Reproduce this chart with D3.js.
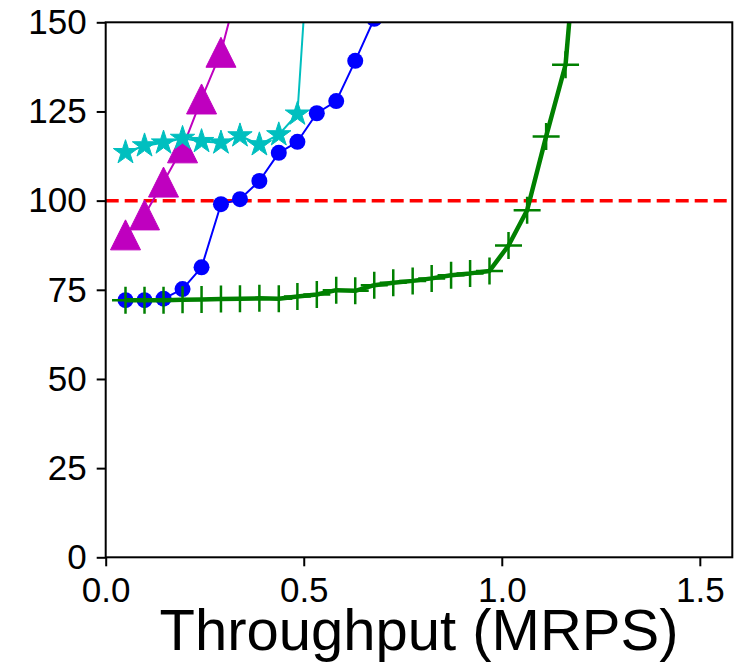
<!DOCTYPE html>
<html>
<head>
<meta charset="utf-8">
<script src="https://cdn.jsdelivr.net/npm/d3@7/dist/d3.min.js"></script>
<style>
	body { margin: 0; background: #fff; }
	text { font-family: "Liberation Sans", Arial, Helvetica, sans-serif; }
</style>
</head>
<body>
<svg id="chart" width="748" height="664"></svg>
<script>

// Offered load points (MRPS), shared by all series.
var throughput = [ 0.050, 0.098, 0.146, 0.194, 0.242, 0.291, 0.339, 0.388, 0.437, 0.484,
	0.533, 0.582, 0.630, 0.678, 0.726, 0.775, 0.823, 0.872, 0.920, 0.969,
	1.017, 1.064, 1.112, 1.161, 1.209 ];

// Latency per series; index i goes with throughput[i].
var greenLatency = [ 72.1, 72.1, 72.1, 72.2, 72.3, 72.4, 72.5, 72.6, 72.5, 73.1,
	73.7, 74.9, 74.7, 76.3, 77.0, 77.5, 78.2, 79.1, 79.6, 80.3,
	87.4, 97.3, 118.0, 138.1, 200 ];
var blueLatency = [ 72.1, 72.1, 72.5, 75.2, 81.3, 99.0, 100.4, 105.5, 113.4, 116.5,
	124.5, 127.9, 139.2, 151 ];
var magentaLatency = [ 90.4, 96.0, 105.2, 114.8, 128.5, 141.6, 162 ];
var cyanLatency = [ 113.5, 115.4, 116.2, 117.5, 116.6, 116.2, 118.2, 115.7, 118.5, 124.3, 207 ];

var sloLatency = 100;

var xTicks = [ 0, 0.5, 1.0, 1.5 ];
var yTicks = [ 0, 25, 50, 75, 100, 125, 150 ];

var size = { width: 748, height: 664 };
var padding = { top: 22.3, right: 15.7, bottom: 106.7, left: 105.7 };

var svg = d3.select( '#chart' );

var x = d3.scaleLinear()
	.domain( [ 0, 1.582 ] )
	.range( [ padding.left, size.width - padding.right ] );

var y = d3.scaleLinear()
	.domain( [ 0, 150 ] )
	.range( [ size.height - padding.bottom, padding.top ] );

svg.append( 'defs' ).append( 'clipPath' )
	.attr( 'id', 'plot-clip' )
	.append( 'rect' )
	.attr( 'x', x.range()[0] )
	.attr( 'y', y.range()[1] )
	.attr( 'width', x.range()[1] - x.range()[0] )
	.attr( 'height', y.range()[0] - y.range()[1] );

var plot = svg.append( 'g' ).attr( 'clip-path', 'url(#plot-clip)' );

// SLO line goes under everything else.
plot.append( 'line' )
	.attr( 'x1', x.range()[0] )
	.attr( 'x2', x.range()[1] )
	.attr( 'y1', y( sloLatency ) )
	.attr( 'y2', y( sloLatency ) )
	.style( 'stroke', '#ff0000' )
	.style( 'stroke-width', 3.5 )
	.style( 'stroke-dasharray', '13,6' );

function starPath( r ) {
	var pts = [];
	for ( var i = 0; i < 10; i++ ) {
		var rad = i % 2 === 0 ? r : r * 0.381966;
		var a = -Math.PI / 2 + i * Math.PI / 5;
		pts.push( ( rad * Math.cos( a ) ).toFixed( 2 ) + ',' + ( rad * Math.sin( a ) ).toFixed( 2 ) );
	}
	return 'M' + pts.join( 'L' ) + 'Z';
}

var markers = {
	triangle: 'M0,-15L15,15L-15,15Z',
	star: starPath( 12.8 ),
	plus: 'M-13.5,0H13.5M0,-13.5V13.5'
};

var series = [
	{ name: 'magenta', values: magentaLatency, color: '#bf00bf', width: 2, marker: 'triangle' },
	{ name: 'cyan', values: cyanLatency, color: '#00bfbf', width: 2, marker: 'star' },
	{ name: 'blue', values: blueLatency, color: '#0000ff', width: 2, marker: 'circle' },
	{ name: 'green', values: greenLatency, color: '#008000', width: 4.5, marker: 'plus' }
];

var lineGenerator = d3.line()
	.x( function ( d ) { return x( d[0] ); } )
	.y( function ( d ) { return y( d[1] ); } );

series.forEach( function ( s ) {
	var pts = s.values.map( function ( v, i ) {
		return [ throughput[i], v ];
	} );

	var g = plot.append( 'g' ).attr( 'class', 'series series-' + s.name );

	g.append( 'path' )
		.attr( 'd', lineGenerator( pts ) )
		.style( 'fill', 'none' )
		.style( 'stroke', s.color )
		.style( 'stroke-width', s.width )
		.style( 'stroke-linejoin', 'round' );

	var marks = g.selectAll( '.mark' )
		.data( pts )
		.enter();

	if ( s.marker === 'circle' ) {
		marks.append( 'circle' )
			.attr( 'class', 'mark' )
			.attr( 'cx', function ( d ) { return x( d[0] ); } )
			.attr( 'cy', function ( d ) { return y( d[1] ); } )
			.attr( 'r', 8 )
			.style( 'fill', s.color );
	} else {
		marks.append( 'path' )
			.attr( 'class', 'mark' )
			.attr( 'd', markers[s.marker] )
			.attr( 'transform', function ( d ) {
				return 'translate(' + x( d[0] ) + ',' + y( d[1] ) + ')';
			} )
			.style( 'fill', s.marker === 'plus' ? 'none' : s.color )
			.style( 'stroke', s.color )
			.style( 'stroke-width', s.marker === 'plus' ? 2.5 : 1 );
	}
} );

// Axes.
var xAxis = svg.append( 'g' )
	.attr( 'transform', 'translate(0,' + y.range()[0] + ')' )
	.call( d3.axisBottom( x ).tickValues( xTicks ).tickFormat( d3.format( '.1f' ) ).tickSize( 9 ).tickSizeOuter( 0 ).tickPadding( 11 ) );

var yAxis = svg.append( 'g' )
	.attr( 'transform', 'translate(' + x.range()[0] + ',0)' )
	.call( d3.axisLeft( y ).tickValues( yTicks ).tickSize( 9 ).tickSizeOuter( 0 ).tickPadding( 10 ) );

[ xAxis, yAxis ].forEach( function ( a ) {
	a.select( '.domain' ).remove();
	a.selectAll( 'line' ).style( 'stroke', '#000' ).style( 'stroke-width', 2 );
	a.selectAll( 'text' )
		.style( 'font-size', '35px' )
		.style( 'font-family', '"Liberation Sans", Arial, Helvetica, sans-serif' )
		.style( 'fill', '#000' );
} );

svg.append( 'rect' )
	.attr( 'x', x.range()[0] )
	.attr( 'y', y.range()[1] )
	.attr( 'width', x.range()[1] - x.range()[0] )
	.attr( 'height', y.range()[0] - y.range()[1] )
	.style( 'fill', 'none' )
	.style( 'stroke', '#000' )
	.style( 'stroke-width', 2 );

svg.append( 'text' )
	.attr( 'x', ( x.range()[0] + x.range()[1] ) / 2 )
	.attr( 'y', 650 )
	.attr( 'text-anchor', 'middle' )
	.style( 'font-size', '58px' )
	.style( 'fill', '#000' )
	.text( 'Throughput (MRPS)' );

</script>
</body>
</html>
